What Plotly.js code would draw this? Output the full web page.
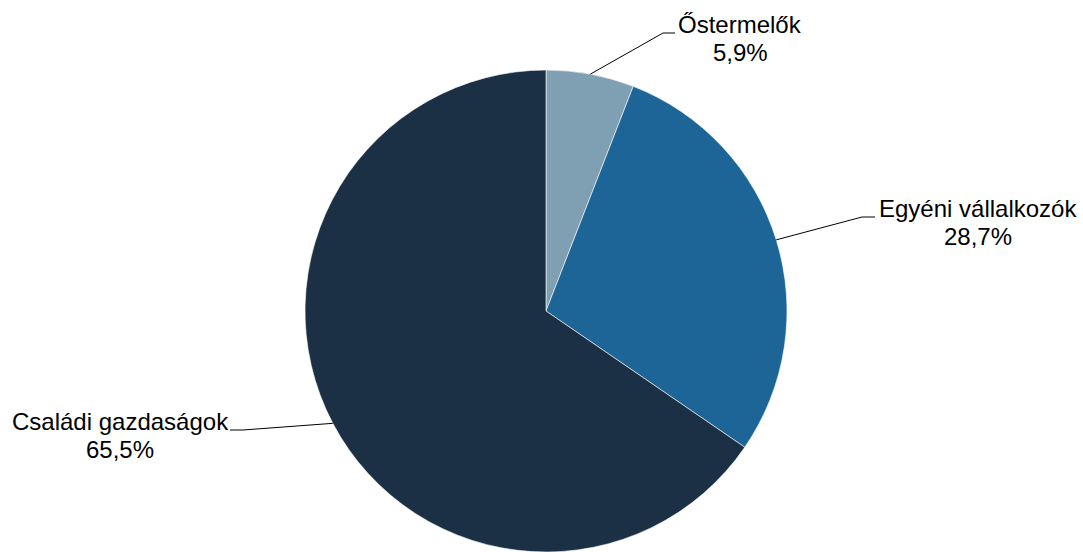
<!DOCTYPE html>
<html>
<head>
<meta charset="utf-8">
<script src="https://cdn.plot.ly/plotly-3.0.1.min.js"></script>
<style>
  html, body { margin: 0; padding: 0; background: #ffffff; }
  #chart { width: 1083px; height: 552px; }
</style>
</head>
<body>
<div id="chart"></div>
<script>
// ---- data ----
var categories = ["Őstermelők", "Egyéni vállalkozók", "Családi gazdaságok"];
var shares = [5.9, 28.7, 65.5];
var sliceColors = ["#7FA0B3", "#1D6596", "#1B3045"];

// ---- layout constants (pixels) ----
var W = 1083, H = 552;
var M = { l: 9, r: 0, t: 70, b: 0 };
var FONT = '"Liberation Sans", Arial, sans-serif';
var FS = 24;
// label text centre x, first-line baseline y, leader elbow and end points
var labelLayout = [
  { cx: 740, base: 33, elbow: [663, 33], end: [675, 33] },
  { cx: 978, base: 217, elbow: [862, 217], end: [875, 217] },
  { cx: 120, base: 430, elbow: [243, 430], end: [230, 430] }
];
var lineGap = 28;

var plotW = W - M.l - M.r, plotH = H - M.t - M.b;
function px2x(px) { return (px - M.l) / plotW; }
function py2y(py) { return 1 - (py - M.t) / plotH; }

var cx = M.l + plotW / 2, cy = M.t + plotH / 2;
var R = Math.min(plotW, plotH) / 2;
var total = shares.reduce(function (a, b) { return a + b; }, 0);

var shapes = [], annotations = [];
var cum = 0;
shares.forEach(function (v, i) {
  var mid = (cum + v / 2) / total * 2 * Math.PI;
  cum += v;
  var ex = cx + R * Math.sin(mid), ey = cy - R * Math.cos(mid);
  var L = labelLayout[i];
  shapes.push({
    type: "path", xref: "paper", yref: "paper",
    path: "M " + px2x(ex) + "," + py2y(ey) +
          " L " + px2x(L.elbow[0]) + "," + py2y(L.elbow[1]) +
          " L " + px2x(L.end[0]) + "," + py2y(L.end[1]),
    line: { color: "#000000", width: 1 }
  });
  var pct = v.toFixed(1).replace(".", ",") + "%";
  [categories[i], pct].forEach(function (t, k) {
    annotations.push({
      text: t, showarrow: false, xref: "paper", yref: "paper",
      x: px2x(L.cx), y: py2y(L.base + k * lineGap - 0.3465 * FS),
      xanchor: "center", yanchor: "middle",
      font: { family: FONT, size: FS, color: "#000000" }
    });
  });
});

var trace = {
  type: "pie",
  labels: categories,
  values: shares,
  sort: false,
  direction: "clockwise",
  rotation: 0,
  textinfo: "none",
  hoverinfo: "skip",
  marker: { colors: sliceColors, line: { color: "#ffffff", width: 0.6 } },
  domain: { x: [0, 1], y: [0, 1] }
};

var layout = {
  width: W, height: H,
  margin: M,
  showlegend: false,
  paper_bgcolor: "#ffffff",
  plot_bgcolor: "#ffffff",
  font: { family: FONT, size: FS, color: "#000000" },
  shapes: shapes,
  annotations: annotations
};

Plotly.newPlot("chart", [trace], layout, { staticPlot: true, displayModeBar: false });
</script>
</body>
</html>
